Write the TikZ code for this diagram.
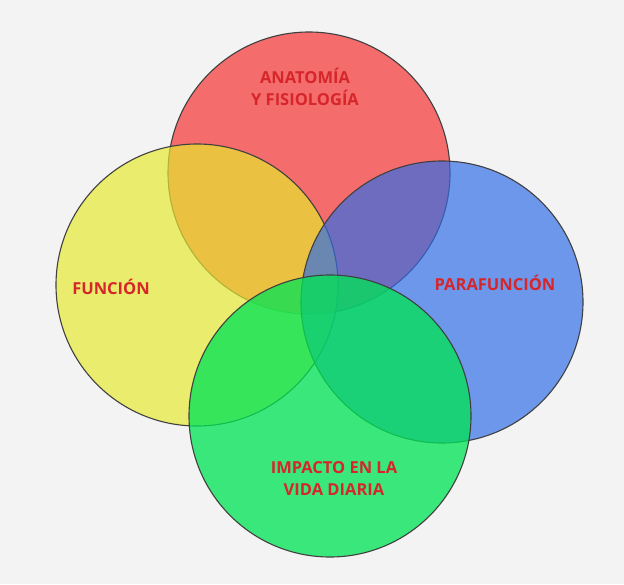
\documentclass[tikz,border=0pt]{standalone}
\usepackage{fontspec}
\setmainfont{Open Sans}
\definecolor{bgcol}{RGB}{243,243,243}
\definecolor{redcol}{RGB}{245,45,45}
\definecolor{yellowcol}{RGB}{231,234,46}
\definecolor{bluecol}{RGB}{46,108,231}
\definecolor{greencol}{RGB}{0,228,85}
\definecolor{labelcol}{RGB}{214,38,42}
\tikzset{
  area/.style={circle, minimum size=282pt, draw=black!75, line width=1.1pt,
    fill opacity=0.68, inner sep=0pt},
  label/.style={text=labelcol, font=\fontsize{16.5}{22}\selectfont\bfseries, align=center}
}
\begin{document}
\begin{tikzpicture}[x=1pt, y=-1pt]
  \useasboundingbox[fill=bgcol] (0,0) rectangle (624,584);
  \node[area, fill=redcol] (anat) at (309,173) {};
  \node[area, fill=yellowcol] (func) at (197,285) {};
  \node[area, fill=bluecol] (para) at (442,302) {};
  \node[area, fill=greencol, fill opacity=0.76] (vida) at (330,416) {};
  \node[label] (anatlbl) at (305,87) {ANATOMÍA\\Y FISIOLOGÍA};
  \node[label] (funclbl) at (111,287) {FUNCIÓN};
  \node[label] (paralbl) at (495,283) {PARAFUNCIÓN};
  \node[label] (vidalbl) at (334,479) {IMPACTO EN LA\\VIDA DIARIA};
\end{tikzpicture}
\end{document}
